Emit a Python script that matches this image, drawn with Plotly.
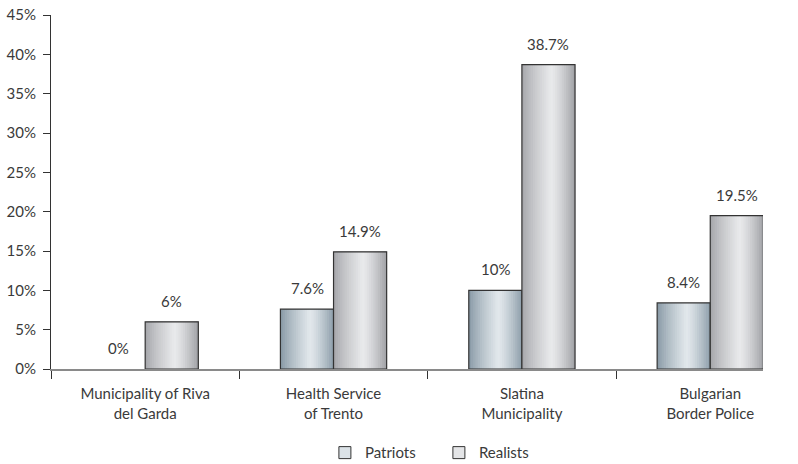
import plotly.graph_objects as go

categories = ["Municipality of Riva<br>del Garda", "Health Service<br>of Trento",
              "Slatina<br>Municipality", "Bulgarian<br>Border Police"]
patriots = [0, 7.6, 10, 8.4]
realists = [6, 14.9, 38.7, 19.5]
patriot_labels = ["0%", "7.6%", "10%", "8.4%"]
realist_labels = ["6%", "14.9%", "38.7%", "19.5%"]
y_tickvals = [0, 5, 10, 15, 20, 25, 30, 35, 40, 45]
y_ticktext = ["0%", "5%", "10%", "15%", "20%", "25%", "30%", "35%", "40%", "45%"]

FONT = "Lato"
FS = 15
TXT = "#3a3a3a"
BW = 0.282  # bar width in category units
NSL = 24

def hex2rgb(h):
    h = h.lstrip("#")
    return tuple(int(h[i:i + 2], 16) for i in (0, 2, 4))

def mix(c1, c2, t):
    a, b = hex2rgb(c1), hex2rgb(c2)
    return "rgb(%d,%d,%d)" % tuple(round(a[i] + (b[i] - a[i]) * t) for i in range(3))

def shade(t, dark_l, light, dark_r):
    peak = 0.55
    if t <= peak:
        return mix(dark_l, light, (t / peak) ** 0.8)
    return mix(light, dark_r, ((t - peak) / (1 - peak)) ** 1.3)

fig = go.Figure()

series = [
    ("Patriots", patriots, -BW, ("#8496a3", "#e2e8ec", "#8d9eaa")),
    ("Realists", realists, 0.0, ("#a3a4a8", "#e9eaec", "#a0a1a5")),
]

for name, vals, off0, cols in series:
    sw = BW / NSL
    for i in range(NSL):
        t = (i + 0.5) / NSL
        fig.add_trace(go.Bar(
            x=categories, y=vals, width=BW - i * sw, offset=off0 + i * sw,
            marker=dict(color=shade(t, *cols), line=dict(width=0)),
            showlegend=False, hoverinfo="skip"))
    # outline (none for zero-height bars)
    fig.add_trace(go.Bar(
        x=categories, y=vals, width=BW, offset=off0,
        marker=dict(color="rgba(0,0,0,0)",
                    line=dict(color="#333333", width=[1.2 if v > 0 else 0 for v in vals])),
        showlegend=False, hoverinfo="skip"))

# legend entries
for name, vals, off0, cols in series:
    fig.add_trace(go.Bar(
        x=[None], y=[None], name=name,
        marker=dict(color=shade(0.5, *cols), line=dict(color="#333333", width=1))))

for cat, v, lab in zip(categories, patriots, patriot_labels):
    fig.add_annotation(x=cat, y=v, text=lab, showarrow=False, xshift=-26.5,
                       yanchor="bottom", yshift=10,
                       font=dict(family=FONT, size=FS, color=TXT))
for cat, v, lab in zip(categories, realists, realist_labels):
    fig.add_annotation(x=cat, y=v, text=lab, showarrow=False, xshift=26.5,
                       yanchor="bottom", yshift=10,
                       font=dict(family=FONT, size=FS, color=TXT))

fig.update_layout(
    width=798, height=464,
    margin=dict(l=51, r=35, t=15, b=95),
    barmode="overlay",
    plot_bgcolor="white", paper_bgcolor="white",
    font=dict(family=FONT, size=FS, color=TXT),
    showlegend=True,
    legend=dict(orientation="h", xref="container", yref="container",
                x=0.55, y=0.024, xanchor="center", yanchor="middle",
                font=dict(family=FONT, size=FS, color=TXT),
                itemwidth=30, entrywidth=69, entrywidthmode="pixels",
                tracegroupgap=0, bgcolor="rgba(0,0,0,0)"),
)
fig.update_xaxes(
    type="category", categoryorder="array", categoryarray=categories,
    range=[-0.5, 3.28], tickson="boundaries", ticks="outside", ticklen=8,
    tickcolor="#333333", showline=True, linecolor="#8a8a8a", linewidth=2,
    showgrid=False, zeroline=False, automargin=False, layer="above traces",
    ticklabelstandoff=10,
    tickfont=dict(family=FONT, size=FS, color=TXT),
)
fig.update_yaxes(
    range=[0, 45], tickvals=y_tickvals, ticktext=y_ticktext,
    ticks="outside", ticklen=7, tickcolor="#333333",
    showline=True, linecolor="#333333", linewidth=1,
    showgrid=False, zeroline=False, automargin=False, layer="above traces",
    ticklabelstandoff=4,
    tickfont=dict(family=FONT, size=FS, color=TXT),
)

fig.write_html("out.html")
